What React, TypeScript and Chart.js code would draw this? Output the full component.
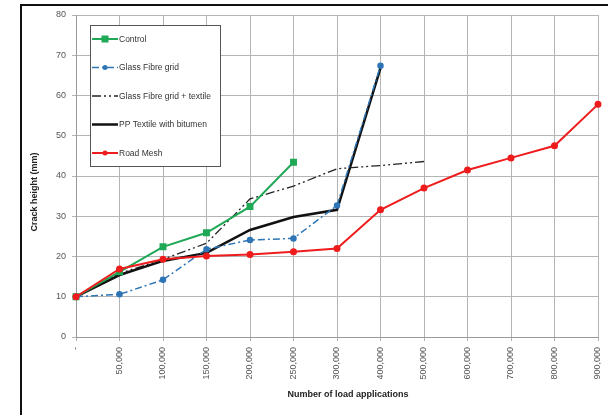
import React, { useEffect, useRef } from 'react';
import { Chart, registerables } from 'chart.js';

Chart.register(...registerables);

const categories = ['-', '50,000', '100,000', '150,000', '200,000', '250,000', '300,000', '400,000', '500,000', '600,000', '700,000', '800,000', '900,000'];
const control = [10, 16.2, 22.4, 25.9, 32.4, 43.4, null, null, null, null, null, null, null];
const glassFibreGrid = [10, 10.6, 14.2, 21.8, 24.1, 24.5, 32.7, 67.4, null, null, null, null, null];
const glassFibreTextile = [10, 15.8, 19.3, 23.3, 34.3, 37.5, 41.8, 42.6, 43.6, null, null, null, null];
const ppTextile = [10, 15.4, 18.9, 20.9, 26.6, 29.8, 31.6, 66.8, null, null, null, null, null];
const roadMesh = [10, 16.9, 19.3, 20.1, 20.5, 21.2, 22.0, 31.6, 37.0, 41.5, 44.5, 47.5, 57.8];
const yMin = 0;
const yMax = 80;
const yStep = 10;
const xTitle = 'Number of load applications';
const yTitle = 'Crack height (mm)';

const FONT = '"Liberation Sans", Arial, sans-serif';

const legendPlugin = {
  id: 'boxLegend',
  afterDraw(chart: any) {
    const ctx = chart.ctx as CanvasRenderingContext2D;
    const x0 = 90, y0 = 25, w = 130, h = 141;
    ctx.save();
    ctx.fillStyle = '#ffffff';
    ctx.fillRect(x0, y0, w, h);
    ctx.strokeStyle = '#555';
    ctx.lineWidth = 1;
    ctx.strokeRect(x0 + 0.5, y0 + 0.5, w, h);
    chart.data.datasets.forEach((ds: any, i: number) => {
      const y = 39 + i * 28.5;
      ctx.save();
      ctx.strokeStyle = ds.borderColor;
      ctx.lineWidth = ds.borderWidth;
      ctx.setLineDash(ds.borderDash || []);
      ctx.beginPath();
      ctx.moveTo(92, y);
      ctx.lineTo(118, y);
      ctx.stroke();
      ctx.setLineDash([]);
      if (ds.pointRadius > 0) {
        ctx.fillStyle = ds.pointBackgroundColor;
        const r = ds.pointRadius;
        if (ds.pointStyle === 'rect') {
          ctx.fillRect(105 - r, y - r, 2 * r, 2 * r);
        } else {
          ctx.beginPath();
          ctx.arc(105, y, r, 0, Math.PI * 2);
          ctx.fill();
        }
      }
      ctx.restore();
      ctx.fillStyle = '#333';
      ctx.font = `8.5px ${FONT}`;
      ctx.textBaseline = 'middle';
      ctx.textAlign = 'left';
      ctx.fillText(ds.label, 119, y + 0.5);
    });
    ctx.restore();
  },
};

const axisTitlePlugin = {
  id: 'axisTitles',
  afterDraw(chart: any) {
    const ctx = chart.ctx as CanvasRenderingContext2D;
    ctx.save();
    ctx.fillStyle = '#222';
    ctx.font = `bold 9px ${FONT}`;
    ctx.textAlign = 'center';
    ctx.textBaseline = 'middle';
    ctx.fillText(xTitle, 348, 395);
    ctx.translate(35, 192);
    ctx.rotate(-Math.PI / 2);
    ctx.fillText(yTitle, 0, 0);
    ctx.restore();
  },
};

export default function App() {
  const ref = useRef<HTMLCanvasElement>(null);
  useEffect(() => {
    const chart = new Chart(ref.current as HTMLCanvasElement, {
      type: 'line',
      data: {
        labels: categories,
        datasets: [
          {
            label: 'Control',
            data: control,
            borderColor: '#1fa855',
            backgroundColor: '#1fa855',
            pointBackgroundColor: '#1fa855',
            pointBorderColor: '#1fa855',
            borderWidth: 2,
            pointStyle: 'rect',
            pointRadius: 3.5,
            order: 2,
          },
          {
            label: 'Glass Fibre grid',
            data: glassFibreGrid,
            borderColor: '#2e75b6',
            backgroundColor: '#2e75b6',
            pointBackgroundColor: '#2e75b6',
            pointBorderColor: '#2e75b6',
            borderWidth: 1.5,
            borderDash: [7, 3, 2, 3],
            pointStyle: 'circle',
            pointRadius: 2.5,
            order: 1,
          },
          {
            label: 'Glass Fibre grid + textile',
            data: glassFibreTextile,
            borderColor: '#222',
            backgroundColor: '#222',
            pointBackgroundColor: '#222',
            borderWidth: 1.3,
            borderDash: [9, 3, 2, 3, 2, 3],
            pointRadius: 0,
            order: 4,
          },
          {
            label: 'PP Textile with bitumen',
            data: ppTextile,
            borderColor: '#111',
            backgroundColor: '#111',
            pointBackgroundColor: '#111',
            borderWidth: 2.5,
            pointRadius: 0,
            order: 3,
          },
          {
            label: 'Road Mesh',
            data: roadMesh,
            borderColor: '#ee1c1c',
            backgroundColor: '#ee1c1c',
            pointBackgroundColor: '#ee1c1c',
            pointBorderColor: '#ee1c1c',
            borderWidth: 2,
            pointStyle: 'circle',
            pointRadius: 2.5,
            order: 0,
          },
        ] as any,
      },
      options: {
        animation: false,
        responsive: false,
        devicePixelRatio: 1,
        layout: { padding: { left: 0, right: 10, top: 15, bottom: 0 } },
        elements: { line: { tension: 0 } },
        plugins: {
          legend: { display: false },
          tooltip: { enabled: false },
          title: { display: false },
        },
        scales: {
          x: {
            type: 'category',
            offset: false,
            grid: { color: '#b4b4b4', lineWidth: 1, tickLength: 4, drawTicks: true },
            border: { color: '#999', width: 1 },
            ticks: {
              autoSkip: false,
              minRotation: 90,
              maxRotation: 90,
              padding: 6,
              color: '#555',
              font: { family: FONT, size: 9 },
            },
            afterFit: (scale: any) => {
              scale.height = 78;
              scale.paddingLeft = 0;
              scale.paddingRight = 0;
            },
          },
          y: {
            min: yMin,
            max: yMax,
            grid: { color: '#b4b4b4', lineWidth: 1, tickLength: 4 },
            border: { color: '#999', width: 1 },
            ticks: {
              stepSize: yStep,
              padding: 6,
              color: '#555',
              font: { family: FONT, size: 9 },
            },
            afterFit: (scale: any) => {
              scale.width = 76;
              scale.paddingTop = 0;
              scale.paddingBottom = 0;
            },
          },
        },
      },
      plugins: [legendPlugin, axisTitlePlugin],
    });
    return () => chart.destroy();
  }, []);

  return (
    <div style={{ position: 'fixed', left: 0, top: 0, width: 608, height: 415, overflow: 'hidden', background: '#fff' }}>
      <div style={{ position: 'absolute', left: 20, top: 4, width: 700, height: 500, border: '2px solid #111' }} />
      <canvas ref={ref} width={608} height={415} style={{ position: 'absolute', left: 0, top: 0, width: 608, height: 415 }} />
    </div>
  );
}
